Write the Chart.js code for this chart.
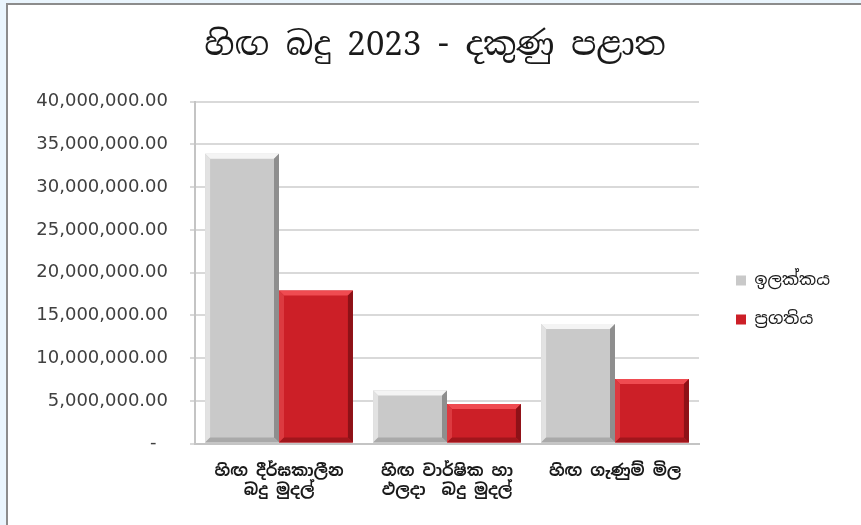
<!DOCTYPE html>
<html>
<head>
<meta charset="utf-8">
<script src="https://cdn.jsdelivr.net/npm/chart.js@4"></script>
<style>
	html, body { margin: 0; padding: 0; background: #eaf5fd; }
	#frame {
		position: absolute; left: 6px; top: 3px; width: 853px; height: 520px;
		border-left: 2px solid #8c8c8c; border-top: 2px solid #8c8c8c;
		background: #ffffff;
	}
	#js-tax-chart { display: block; }
</style>
</head>
<body>
<div id="frame"><canvas id="js-tax-chart" width="853" height="520"></canvas></div>
<script>
const titleText = 'හිඟ බදු 2023 - දකුණු පළාත';
const categories = [
	['හිඟ දීර්ඝකාලීන', 'බදු මුදල්'],
	['හිඟ වාර්ෂික හා', 'ඵලදා  බදු මුදල්'],
	['හිඟ ගැණුම් මිල'],
];
const seriesNames = ['ඉලක්කය', 'ප්‍රගතිය'];
const targetValues = [33900000, 6200000, 14000000];
const progressValues = [17900000, 4640000, 7570000];
const yMax = 40000000;
const yStep = 5000000;

const sinhalaFont = "'Noto Sans Sinhala', 'Iskoola Pota', 'Noto Sans', sans-serif";

// bevel look of the bars, drawn on top of each bar element
const bevelPlugin = {
	id: 'bevel',
	afterDatasetsDraw(chart) {
		const ctx = chart.ctx;
		const shades = [
			{ top: '#f4f4f4', left: '#e2e2e2', right: '#8e8e8e', bottom: '#a9a9a9' },
			{ top: '#ef4b51', left: '#dc3a40', right: '#8d1117', bottom: '#a1161c' },
		];
		chart.data.datasets.forEach((ds, i) => {
			const meta = chart.getDatasetMeta(i);
			const s = shades[i];
			meta.data.forEach((bar) => {
				const w = bar.width;
				const l = bar.x - w / 2;
				const r = bar.x + w / 2;
				const t = bar.y;
				const b = bar.base;
				const e = Math.min(5, (b - t) / 3);
				ctx.save();
				ctx.fillStyle = s.top;
				ctx.beginPath();
				ctx.moveTo(l, t); ctx.lineTo(r, t); ctx.lineTo(r - e, t + e); ctx.lineTo(l + e, t + e);
				ctx.closePath(); ctx.fill();
				ctx.fillStyle = s.left;
				ctx.beginPath();
				ctx.moveTo(l, t); ctx.lineTo(l + e, t + e); ctx.lineTo(l + e, b - e); ctx.lineTo(l, b);
				ctx.closePath(); ctx.fill();
				ctx.fillStyle = s.right;
				ctx.beginPath();
				ctx.moveTo(r, t); ctx.lineTo(r - e, t + e); ctx.lineTo(r - e, b - e); ctx.lineTo(r, b);
				ctx.closePath(); ctx.fill();
				ctx.fillStyle = s.bottom;
				ctx.beginPath();
				ctx.moveTo(l, b); ctx.lineTo(l + e, b - e); ctx.lineTo(r - e, b - e); ctx.lineTo(r, b);
				ctx.closePath(); ctx.fill();
				ctx.restore();
			});
		});
	},
};

const ctx = document.getElementById('js-tax-chart');
const taxChart = new Chart(ctx, {
	type: 'bar',
	data: {
		labels: categories,
		datasets: [
			{
				label: seriesNames[0],
				data: targetValues,
				backgroundColor: '#c9c9c9',
				borderWidth: 0,
			},
			{
				label: seriesNames[1],
				data: progressValues,
				backgroundColor: '#cc1f27',
				borderWidth: 0,
			},
		],
	},
	options: {
		responsive: false,
		animation: false,
		categoryPercentage: 0.88,
		barPercentage: 1.0,
		layout: {
			padding: { top: 21, right: 21, bottom: 7, left: 22 },
		},
		plugins: {
			title: {
				display: true,
				text: titleText,
				color: '#1a1a1a',
				font: { family: "'Noto Serif Sinhala', 'Liberation Serif', serif", size: 33, weight: 'normal' },
				padding: { top: 0, bottom: 36 },
			},
			legend: {
				position: 'right',
				// empty title only pushes the items down a little
				title: { display: true, text: ' ', font: { size: 10 }, padding: { top: 44, bottom: 0 } },
				labels: {
					boxWidth: 10,
					boxHeight: 10,
					padding: 22,
					color: '#1a1a1a',
					font: { family: sinhalaFont, size: 17 },
				},
			},
			tooltip: { enabled: false },
		},
		scales: {
			x: {
				grid: { display: false, drawTicks: false },
				border: { display: true, color: '#c4c4c4', width: 2 },
				ticks: {
					color: '#1a1a1a',
					padding: 18,
					font: { family: sinhalaFont, size: 16, weight: 'bold' },
				},
			},
			y: {
				min: 0,
				max: yMax,
				afterFit(scale) { scale.width = 165; },
				grid: { color: '#d9d9d9', lineWidth: 2, tickLength: 5 },
				border: { display: true, color: '#c4c4c4', width: 2 },
				ticks: {
					stepSize: yStep,
					padding: 22,
					color: '#404040',
					font: { family: "'DejaVu Sans', sans-serif", size: 18 },
					callback: (v) => v === 0 ? '-  ' : v.toLocaleString('en-US', { minimumFractionDigits: 2, maximumFractionDigits: 2 }),
				},
			},
			// spacer between the plot and the legend
			gap: {
				position: 'right',
				display: true,
				grid: { display: false, drawTicks: false },
				border: { display: false },
				ticks: { display: false },
				afterFit(scale) { scale.width = 15; },
			},
		},
	},
	plugins: [bevelPlugin],
});
</script>
</body>
</html>
